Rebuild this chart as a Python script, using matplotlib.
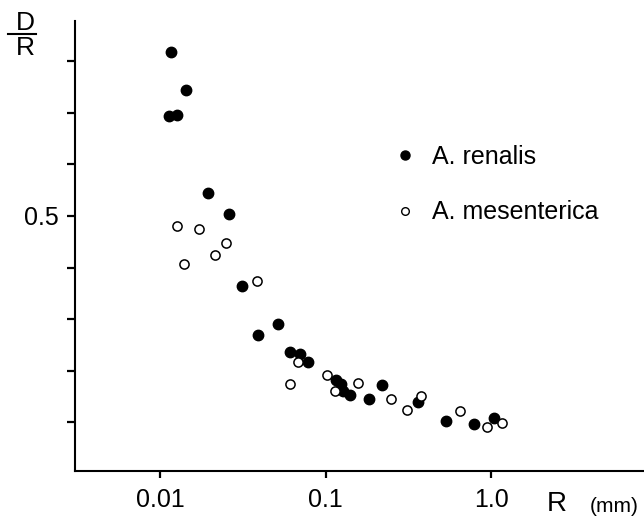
import numpy as np
import matplotlib
matplotlib.use('Agg')
import matplotlib.pyplot as plt
from matplotlib.lines import Line2D

plt.rcParams['font.family'] = ['Liberation Sans', 'DejaVu Sans']

# A. renalis (puntos llenos)
renalis_r = [0.01161, 0.01436, 0.01133, 0.01261, 0.01942, 0.02623, 0.03108, 0.05178,
             0.03921, 0.06127, 0.06985, 0.07818, 0.1152, 0.1241, 0.1282, 0.1406,
             0.1824, 0.2201, 0.3607, 0.5333, 0.7895, 1.037]
renalis_dr = [0.817, 0.744, 0.694, 0.695, 0.544, 0.504, 0.365, 0.290,
              0.270, 0.236, 0.233, 0.216, 0.182, 0.175, 0.160, 0.153,
              0.145, 0.172, 0.140, 0.103, 0.096, 0.108]

# A. mesenterica (puntos vacios)
mesent_r = [0.01261, 0.01713, 0.02515, 0.02149, 0.01391, 0.03845, 0.06849, 0.06102,
            0.1017, 0.1136, 0.1566, 0.2477, 0.3108, 0.3760, 0.6525, 0.9497, 1.170]
mesent_dr = [0.481, 0.475, 0.448, 0.425, 0.406, 0.373, 0.216, 0.174,
             0.192, 0.161, 0.176, 0.145, 0.124, 0.151, 0.121, 0.090, 0.099]

x_ticks = [0.01, 0.1, 1.0]
x_tick_labels = ['0.01', '0.1', '1.0']
y_ticks = [0.1, 0.2, 0.3, 0.4, 0.5, 0.6, 0.7, 0.8]
y_tick_labels = ['', '', '', '', '0.5', '', '', '']

W, H = 644, 519
fig = plt.figure(figsize=(W / 100, H / 100), dpi=100)
ax = fig.add_axes([75 / W, 48 / H, 569 / W, 450 / H])

ax.plot(renalis_r, renalis_dr, 'o', color='black', markersize=7.5, linestyle='none')
ax.plot(mesent_r, mesent_dr, 'o', markerfacecolor='white', markeredgecolor='black',
        markeredgewidth=1.1, markersize=6.6, linestyle='none')

ax.set_xscale('log')
ax.set_xlim(0.003064, 8.404)
ax.set_ylim(0.0055, 0.878)
ax.set_xticks(x_ticks)
ax.set_xticklabels(x_tick_labels)
ax.set_yticks(y_ticks)
ax.set_yticklabels(y_tick_labels)
ax.minorticks_off()

for s in ['top', 'right']:
    ax.spines[s].set_visible(False)
for s in ['left', 'bottom']:
    ax.spines[s].set_linewidth(1.5)
ax.tick_params(axis='both', direction='out', width=1.6, labelsize=18)
ax.tick_params(axis='y', length=6, pad=6)
ax.tick_params(axis='x', length=5, pad=7)

# titulos de ejes
fig.text(25 / W, 1 - 23 / H, 'D', ha='center', va='center', fontsize=19)
fig.text(25 / W, 1 - 48 / H, 'R', ha='center', va='center', fontsize=19)
fig.add_artist(Line2D([8 / W, 36 / W], [1 - 34 / H, 1 - 34 / H], color='black', linewidth=1.5))
fig.text(557 / W, 1 - 504 / H, 'R', ha='center', va='center', fontsize=20)
fig.text(614 / W, 1 - 507 / H, '(mm)', ha='center', va='center', fontsize=15)

handles = [Line2D([], [], marker='o', color='black', linestyle='none', markersize=6.5),
           Line2D([], [], marker='o', markerfacecolor='white', markeredgecolor='black',
                  markeredgewidth=1.0, linestyle='none', markersize=5.5)]
ax.legend(handles, ['A. renalis', 'A. mesenterica'], loc='upper left',
          bbox_to_anchor=(392 / W, 1 - 145 / H), bbox_transform=fig.transFigure,
          frameon=False, fontsize=18, labelspacing=1.25, handletextpad=0.6,
          handlelength=1.0, borderpad=0, borderaxespad=0)

fig.savefig('out.png', dpi=100, facecolor='white')
